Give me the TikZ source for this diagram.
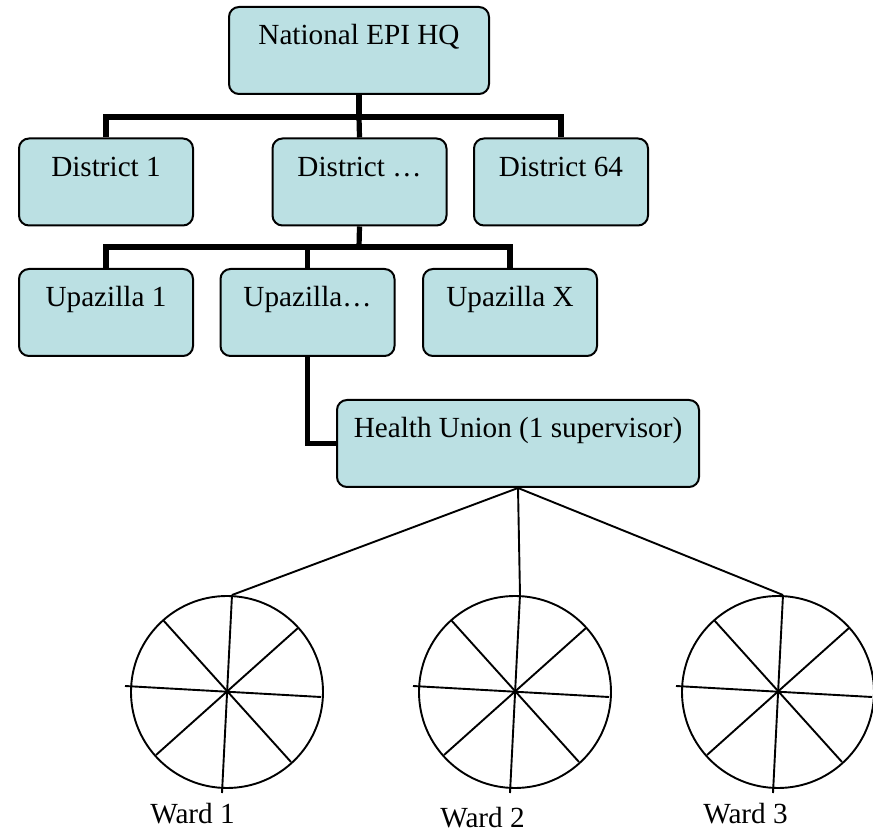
\documentclass[tikz,border=0pt,12pt]{standalone}
\usepackage{fontspec}
\setmainfont{Liberation Serif}
\definecolor{unitblue}{RGB}{187,224,227}
\begin{document}
\begin{tikzpicture}[x=0.5pt,y=-0.5pt,line join=miter]
	\fontsize{14.6}{17}\selectfont
	\tikzstyle{unit}=[draw=black,line width=1pt,fill=unitblue,rounded corners=5pt,inner ysep=0pt,text height=19pt,text depth=24.5pt,minimum width=87pt]
	\tikzstyle{link}=[line width=2.6pt]
	\tikzstyle{thin}=[line width=0.95pt]
	\tikzstyle{ward}=[circle,draw=black,line width=0.95pt,minimum size=96pt,inner sep=0pt]
	\tikzstyle{w-label}=[anchor=base,inner sep=0pt]

	\def \drow{182}
	\def \urow{312.5}
	\def \wrow{692}

	\useasboundingbox (0,0) rectangle (873,833);

	\node[unit,minimum width=130pt]	(hq)	at (359,50.5)		{National EPI HQ};

	\node[unit]	(d1)	at (106,\drow)		{District 1};
	\node[unit]	(d2)	at (359.5,\drow)	{District …};
	\node[unit]	(d3)	at (561,\drow)		{District 64};

	\node[unit]	(u1)	at (106,\urow)		{Upazilla 1};
	\node[unit]	(u2)	at (307.5,\urow)	{Upazilla…};
	\node[unit]	(u3)	at (510,\urow)		{Upazilla X};

	\node[unit,minimum width=181pt]	(hu)	at (518,443.5)	{Health Union (1 supervisor)};

	% tree links
	\coordinate (b1) at (359,117);
	\coordinate (b2) at (359,247);
	\draw[link] (hq.south) -- (b1);
	\draw[link] (d1.north) |- (b1) -| (d3.north);
	\draw[link] (b1) -- (d2.north);
	\draw[link] (d2.south) -- (b2);
	\draw[link] (u1.north) |- (b2) -| (u3.north);
	\draw[link] (u2.north) -- (u2.north |- b2);
	\draw[link] (u2.south) |- (hu.west);

	% wards
	\foreach \n/\cx in {1/227,2/515,3/778} {
		\node[ward] (w\n) at (\cx,\wrow) {};
		\coordinate (w\n-top) at (\cx+5,\wrow-97);
		\draw[thin] (\cx-102,\wrow-6) -- (\cx+94,\wrow+5);
		\draw[thin] (w\n-top) -- (\cx-5,\wrow+101);
		\draw[thin] (\cx-64,\wrow-72) -- (\cx+64,\wrow+70);
		\draw[thin] (\cx+71,\wrow-64) -- (\cx-71,\wrow+63);
		\draw[thin] (hu.south) -- (w\n-top);
	}

	\node[w-label]	(l1)	at (192.5,823)	{Ward 1};
	\node[w-label]	(l2)	at (482.5,827)	{Ward 2};
	\node[w-label]	(l3)	at (745.5,823)	{Ward 3};
\end{tikzpicture}
\end{document}
